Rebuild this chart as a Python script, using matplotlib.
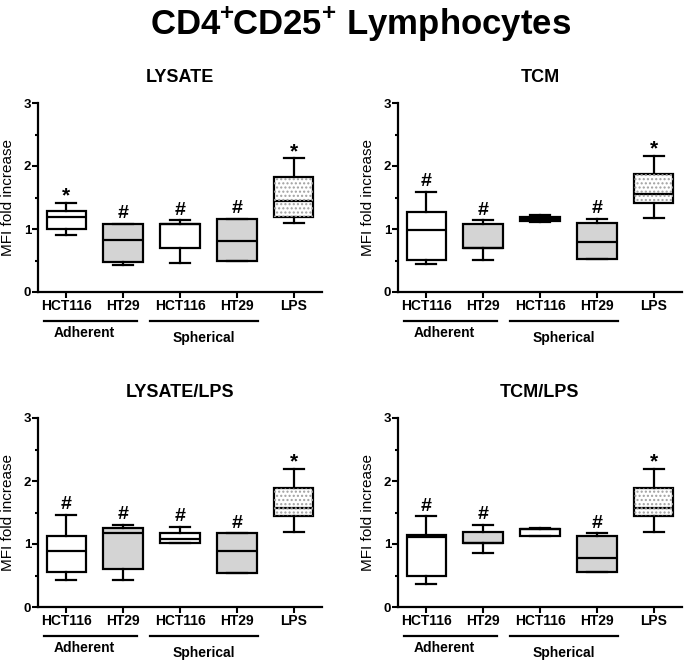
import numpy as np
import matplotlib
matplotlib.use('Agg')
import matplotlib.pyplot as plt
from matplotlib.patches import PathPatch

plt.rcParams['font.family'] = ['Liberation Sans', 'DejaVu Sans']
plt.rcParams['mathtext.fontset'] = 'custom'
plt.rcParams['mathtext.rm'] = 'Liberation Sans:bold'
plt.rcParams['mathtext.bf'] = 'Liberation Sans:bold'
plt.rcParams['hatch.linewidth'] = 1.0

# Data: box stats per group
tick_labels = ['HCT116', 'HT29', 'HCT116', 'HT29', 'LPS']
groups = ['Adherent', 'Spherical']

panel_titles = ['LYSATE', 'TCM', 'LYSATE/LPS', 'TCM/LPS']

lysate_whishi = [1.42, 1.08, 1.14, 1.16, 2.12]
lysate_q3 = [1.285, 1.08, 1.08, 1.16, 1.82]
lysate_med = [1.195, 0.83, 1.08, 0.81, 1.44]
lysate_q1 = [1.00, 0.48, 0.70, 0.49, 1.19]
lysate_whislo = [0.91, 0.43, 0.46, 0.49, 1.10]
lysate_marks = ['*', '#', '#', '#', '*']

tcm_whishi = [1.59, 1.14, 1.22, 1.16, 2.16]
tcm_q3 = [1.27, 1.08, 1.19, 1.09, 1.87]
tcm_med = [0.98, 0.70, 1.16, 0.80, 1.55]
tcm_q1 = [0.515, 0.70, 1.13, 0.52, 1.42]
tcm_whislo = [0.44, 0.51, 1.11, 0.52, 1.18]
tcm_marks = ['#', '#', '', '#', '*']

lyslps_whishi = [1.46, 1.30, 1.27, 1.17, 2.19]
lyslps_q3 = [1.13, 1.26, 1.17, 1.17, 1.89]
lyslps_med = [0.89, 1.17, 1.08, 0.89, 1.57]
lyslps_q1 = [0.55, 0.61, 1.01, 0.54, 1.45]
lyslps_whislo = [0.435, 0.425, 1.01, 0.54, 1.195]
lyslps_marks = ['#', '#', '#', '#', '*']

tcmlps_whishi = [1.44, 1.30, 1.26, 1.17, 2.19]
tcmlps_q3 = [1.15, 1.19, 1.24, 1.13, 1.89]
tcmlps_med = [1.115, 1.01, 1.24, 0.78, 1.57]
tcmlps_q1 = [0.50, 1.01, 1.13, 0.55, 1.45]
tcmlps_whislo = [0.37, 0.85, 1.13, 0.55, 1.195]
tcmlps_marks = ['#', '#', '', '#', '*']

panels = [
    (lysate_whislo, lysate_q1, lysate_med, lysate_q3, lysate_whishi, lysate_marks),
    (tcm_whislo, tcm_q1, tcm_med, tcm_q3, tcm_whishi, tcm_marks),
    (lyslps_whislo, lyslps_q1, lyslps_med, lyslps_q3, lyslps_whishi, lyslps_marks),
    (tcmlps_whislo, tcmlps_q1, tcmlps_med, tcmlps_q3, tcmlps_whishi, tcmlps_marks),
]

positions = np.arange(1, 6)
fills = ['white', '#d4d4d4', 'white', '#d4d4d4', 'white']

fig = plt.figure(figsize=(6.85, 6.61), dpi=100)
W, H = 685, 661
rects = [(38, 103), (398, 103), (38, 418), (398, 418)]
aw, ah = 284, 189

for (x0, y0), title, data in zip(rects, panel_titles, panels):
    ax = fig.add_axes([x0 / W, 1 - (y0 + ah) / H, aw / W, ah / H])
    whislo, q1, med, q3, whishi, marks = data
    stats = [dict(whislo=a, q1=b, med=c, q3=d, whishi=e, fliers=[])
             for a, b, c, d, e in zip(whislo, q1, med, q3, whishi)]
    res = ax.bxp(stats, positions=positions, widths=0.7, patch_artist=True,
                 showfliers=False,
                 boxprops=dict(linewidth=1.6, edgecolor='black'),
                 whiskerprops=dict(linewidth=1.6, color='black'),
                 capprops=dict(linewidth=1.6, color='black'),
                 medianprops=dict(linewidth=1.6, color='black'))
    for box, fc in zip(res['boxes'], fills):
        box.set_facecolor(fc)
    # dotted pattern for LPS
    lps = res['boxes'][4]
    dots = PathPatch(lps.get_path(), transform=lps.get_transform(),
                     facecolor='none', edgecolor='#a0a0a0', hatch='....',
                     linewidth=0, zorder=lps.get_zorder() + 0.1)
    ax.add_patch(dots)

    for x, top, m in zip(positions, whishi, marks):
        if m == '*':
            ax.text(x, top + 0.02, m, ha='center', va='baseline',
                    fontsize=15, fontweight='bold')
        elif m == '#':
            ax.text(x, top + 0.09, m, ha='center', va='baseline',
                    fontsize=14, fontweight='bold')

    ax.set_xlim(0.5, 5.5)
    ax.set_ylim(0, 3)
    ax.set_yticks([0, 1, 2, 3])
    ax.set_yticks([0.5, 1.5, 2.5], minor=True)
    ax.set_xticks(positions)
    ax.set_xticklabels(tick_labels, fontsize=10, fontweight='bold')
    for lab in ax.get_yticklabels():
        lab.set_fontweight('bold')
        lab.set_fontsize(9.5)
    ax.tick_params(axis='both', which='major', direction='out', length=4,
                   width=1.5, pad=1)
    ax.tick_params(axis='y', which='minor', direction='out', length=2.5,
                   width=1.5)
    for s in ['top', 'right']:
        ax.spines[s].set_visible(False)
    for s in ['left', 'bottom']:
        ax.spines[s].set_linewidth(1.6)

    ax.set_ylabel('MFI fold increase', fontsize=11)
    ax.yaxis.set_label_coords(-0.081, 0.5)
    ax.set_title(title, fontsize=13, fontweight='bold', pad=15)

    # group lines and labels
    ax.plot([0.6, 2.25], [-0.46, -0.46], color='black', lw=1.6, clip_on=False)
    ax.plot([2.48, 4.37], [-0.46, -0.46], color='black', lw=1.6, clip_on=False)
    ax.text(1.32, -0.71, groups[0], ha='center', va='baseline',
            fontsize=10, fontweight='bold')
    ax.text(3.42, -0.79, groups[1], ha='center', va='baseline',
            fontsize=10, fontweight='bold')

fig.text(0.527, 0.947, r'CD4$^{+}\hspace{-0.08}$CD25$^{+}$ Lymphocytes',
         ha='center', va='baseline', fontsize=25, fontweight='bold')

fig.savefig('out.png', dpi=100)
plt.close()
